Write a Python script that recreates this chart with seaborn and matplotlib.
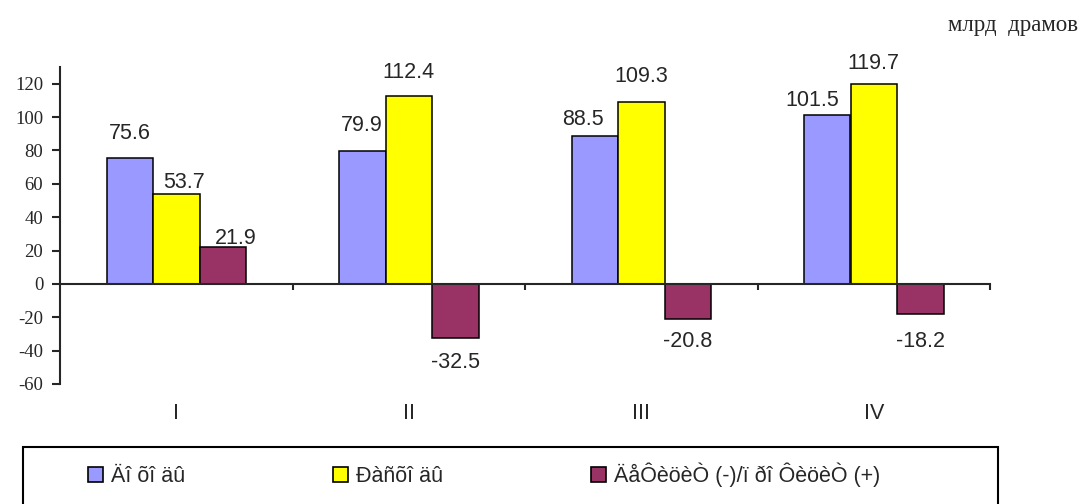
import matplotlib.pyplot as plt
import matplotlib.patches as mpatches
import seaborn as sns
import pandas as pd

# Quarterly budget data, bln drams
quarters = ['I', 'II', 'III', 'IV']
series_names = ['Äî õî äû', 'Ðàñõî äû', 'ÄåÔèöèÒ (-)/ï ðî ÔèöèÒ (+)']
revenue = [75.6, 79.9, 88.5, 101.5]
expenditure = [53.7, 112.4, 109.3, 119.7]
balance = [21.9, -32.5, -20.8, -18.2]
colors = ['#9999FF', '#FFFF00', '#993366']
unit_label = 'млрд  драмов'

# label offsets from bar end in pixels (dx, dy up)
label_offsets = [
    [(0, 24), (0, 25), (-12, 17), (-15, 14)],
    [(8, 12), (0, 24), (0, 25), (0, 21)],
    [(13, 9), (0, -24), (0, -23), (0, -27)],
]

W, H = 1083, 504


def build_frame():
    rows = []
    for name, vals in zip(series_names, [revenue, expenditure, balance]):
        for q, v in zip(quarters, vals):
            rows.append({'quarter': q, 'series': name, 'value': v})
    return pd.DataFrame(rows)


def main():
    df = build_frame()
    sns.set_style("white")
    plt.rcParams['font.family'] = ['Liberation Sans', 'DejaVu Sans']
    plt.rcParams['axes.unicode_minus'] = False

    fig = plt.figure(figsize=(W / 100, H / 100), dpi=100)
    ax = fig.add_axes([60 / W, 1 - 384 / H, (990 - 60) / W, (384 - 67) / H])

    sns.barplot(data=df, x='quarter', y='value', hue='series',
                order=quarters, hue_order=series_names,
                palette=dict(zip(series_names, colors)), saturation=1,
                width=0.6, errorbar=None, edgecolor='black', linewidth=1.1,
                legend=False, ax=ax)

    # value labels
    all_vals = [revenue, expenditure, balance]
    for i, cont in enumerate(ax.containers):
        for j, bar in enumerate(cont):
            v = all_vals[i][j]
            dx, dy = label_offsets[i][j]
            ax.annotate(f'{v:.1f}', xy=(bar.get_x() + bar.get_width() / 2, v),
                        xytext=(dx * 0.72, dy * 0.72), textcoords='offset points',
                        ha='center', va='center', fontsize=15.5)

    ax.set_ylim(-60, 130)
    ax.set_xlim(-0.5, 3.5)
    ax.set_yticks(range(-60, 121, 20))
    ax.set_xlabel('')
    ax.set_ylabel('')

    for s in ['top', 'right']:
        ax.spines[s].set_visible(False)
    ax.spines['left'].set_linewidth(1.5)
    ax.spines['bottom'].set_linewidth(1.5)
    ax.spines['bottom'].set_position(('data', 0))

    ax.tick_params(axis='y', direction='out', length=6, width=1.5, pad=6,
                   labelsize=13.5, left=True)
    for lbl in ax.get_yticklabels():
        lbl.set_family('Liberation Serif')

    ax.set_xticks([0.5, 1.5, 2.5, 3.5], minor=True)
    ax.tick_params(axis='x', which='major', length=0, pad=86, labelsize=15.5)
    ax.tick_params(axis='x', which='minor', direction='out', length=4.5,
                   width=1.5, bottom=True)

    # legend below
    handles = [mpatches.Patch(facecolor=c, edgecolor='black', linewidth=1.2)
               for c in colors]
    fig.legend(handles, series_names, loc='center left',
               bbox_to_anchor=(88 / W, 1 - 475 / H), ncol=3, frameon=False,
               fontsize=15.5, handlelength=0.7, handleheight=0.7,
               handletextpad=0.35, columnspacing=6.9, borderpad=0,
               borderaxespad=0)
    fig.patches.append(mpatches.Rectangle((23 / W, -0.1), (998 - 23) / W,
                                          1 - 447 / H + 0.1,
                                          transform=fig.transFigure,
                                          fill=False, edgecolor='black',
                                          linewidth=1.5))

    fig.text(1078 / W, 1 - 25 / H, unit_label, ha='right', va='center',
             fontsize=16.5, family='Liberation Serif')

    plt.savefig('out.png', dpi=100)


if __name__ == "__main__":
    main()
